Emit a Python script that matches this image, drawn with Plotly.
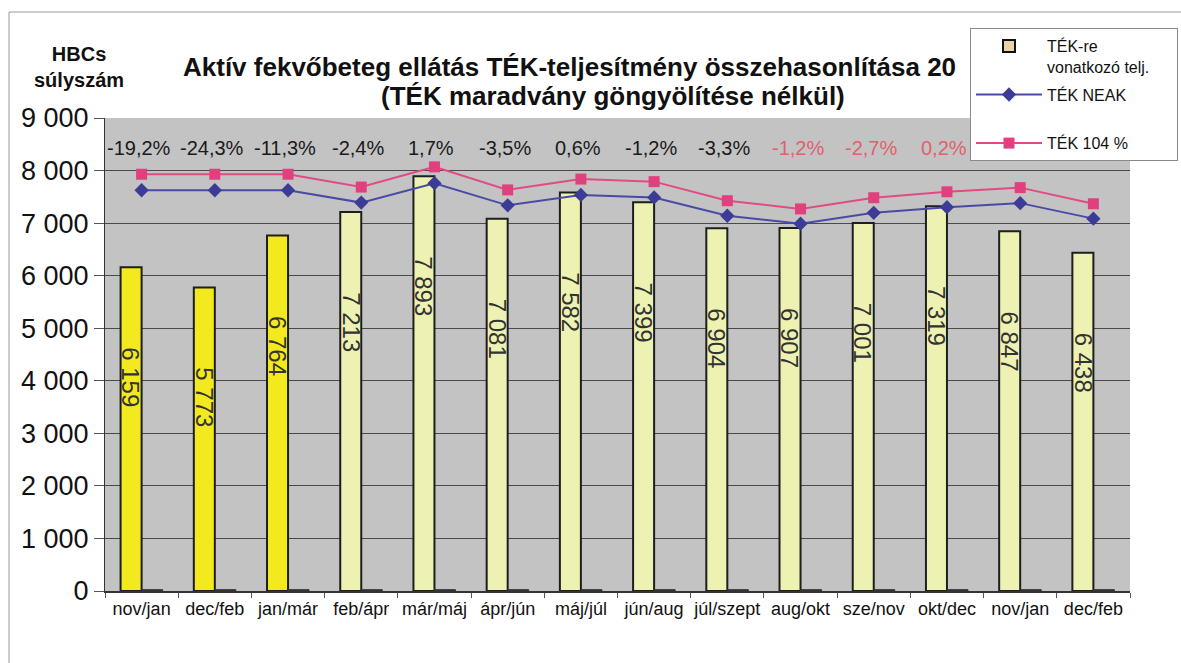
import plotly.graph_objects as go

# ---- data ----
categories = ["nov/jan", "dec/feb", "jan/már", "feb/ápr", "már/máj", "ápr/jún", "máj/júl",
              "jún/aug", "júl/szept", "aug/okt", "sze/nov", "okt/dec", "nov/jan", "dec/feb"]
tek_telj = [6159, 5773, 6764, 7213, 7893, 7081, 7582, 7399, 6904, 6907, 7001, 7319, 6847, 6438]
tek_neak = [7625, 7625, 7625, 7390, 7760, 7338, 7537, 7489, 7140, 6990, 7195, 7304, 7380, 7085]
tek_104 = [7930, 7930, 7930, 7686, 8070, 7632, 7838, 7789, 7426, 7270, 7483, 7596, 7675, 7368]
stub_values = [25, 25, 25, 25, 25, 25, 25, 25, 25, 25, 25, 25, 25, 25]
pct_labels = ["-19,2%", "-24,3%", "-11,3%", "-2,4%", "1,7%", "-3,5%", "0,6%",
              "-1,2%", "-3,3%", "-1,2%", "-2,7%", "0,2%"]
pct_red = [False, False, False, False, False, False, False, False, False, True, True, True]
y_ticks = [0, 1000, 2000, 3000, 4000, 5000, 6000, 7000, 8000, 9000]

# ---- layout geometry (pixels) ----
W, H = 1181, 663
L, R, T, B = 105, 1130, 118, 591
def px(x):
    return (x - L) / (R - L)
def py(y):
    return (B - y) / (B - T)

FONT = "Liberation Sans, Arial, sans-serif"
xs = list(range(len(categories)))
bar_colors = ["#f2ea1e"] * 3 + ["#edf2b2"] * (len(categories) - 3)
bar_text = [f"{v:,}".replace(",", " ") for v in tek_telj]

fig = go.Figure()
fig.add_trace(go.Bar(
    x=xs, y=tek_telj, offsetgroup="a", showlegend=False,
    marker=dict(color=bar_colors, line=dict(color="#1e1e1e", width=2)),
    hoverinfo="skip",
))
fig.add_trace(go.Bar(
    x=xs, y=stub_values, offsetgroup="b", showlegend=False,
    marker=dict(color="#333333", line=dict(color="#333333", width=1)),
    hoverinfo="skip",
))
# legend entry for the bar series (Excel-style tan swatch)
fig.add_trace(go.Bar(
    x=[0], y=[None], offsetgroup="a",
    name="TÉK-re<br>vonatkozó telj.\u00a0\u00a0\u00a0\u00a0\u00a0", legendgroup="g1",
    marker=dict(color="#e9d2a6", line=dict(color="#111111", width=2)),
))
fig.add_trace(go.Scatter(
    x=xs, y=tek_neak, mode="lines+markers", name="TÉK NEAK<br>\u00a0", legendgroup="g2",
    line=dict(color="#4a4aa6", width=2),
    marker=dict(symbol="diamond", size=11, color="#3c3c96"),
))
fig.add_trace(go.Scatter(
    x=xs, y=tek_104, mode="lines+markers", name="TÉK 104 %", legendgroup="g3",
    line=dict(color="#e24a86", width=2),
    marker=dict(symbol="square", size=11, color="#e0407e"),
))

annotations = []
# bar value labels (rotated, inside the bars)
for i, (v, t) in enumerate(zip(tek_telj, bar_text)):
    annotations.append(dict(
        x=i, y=v, xref="x", yref="y", text=t, showarrow=False, textangle=90,
        xanchor="center", yanchor="top", xshift=-10.5, yshift=-78,
        font=dict(family=FONT, size=24, color="#333333"),
    ))
# percentage labels
for i, (lab, red) in enumerate(zip(pct_labels, pct_red)):
    annotations.append(dict(
        x=i, y=8420, xref="x", yref="y", text=lab, showarrow=False, xshift=-3,
        font=dict(family=FONT, size=20, color="#e0606e" if red else "#1a1a1a"),
    ))
annotations.append(dict(
    x=px(181), y=py(67), xref="paper", yref="paper", xanchor="left", yanchor="middle",
    text="<b>Aktív fekvőbeteg ellátás TÉK-teljesítmény összehasonlítása 20</b>",
    showarrow=False, font=dict(family=FONT, size=26, color="#111111"),
))
annotations.append(dict(
    x=px(613), y=py(96), xref="paper", yref="paper", xanchor="center", yanchor="middle",
    text="<b>(TÉK maradvány göngyölítése nélkül)</b>",
    showarrow=False, font=dict(family=FONT, size=26, color="#111111"),
))
annotations.append(dict(
    x=px(79), y=py(67), xref="paper", yref="paper", xanchor="center", yanchor="middle",
    text="<b>HBCs<br>súlyszám</b>", showarrow=False,
    font=dict(family=FONT, size=20, color="#111111"),
))

fig.update_layout(
    width=W, height=H,
    margin=dict(l=L, r=W - R, t=T, b=H - B, pad=0, autoexpand=False),
    paper_bgcolor="white", plot_bgcolor="#c3c3c3",
    separators=", ",
    barmode="group", bargap=0.426, bargroupgap=0,
    font=dict(family=FONT, color="#111111"),
    annotations=annotations,
    legend=dict(
        x=px(970), y=py(28), xanchor="left", yanchor="top",
        bgcolor="white", bordercolor="#8a8a8a", borderwidth=1,
        font=dict(family=FONT, size=16, color="#111111"),
        itemwidth=66, tracegroupgap=4, valign="top",
    ),
    shapes=[dict(type="rect", xref="paper", yref="paper",
                 x0=px(9), x1=px(1300), y0=py(12), y1=py(720),
                 line=dict(color="#9a9a9a", width=1), fillcolor="rgba(0,0,0,0)", layer="below")],
    showlegend=True,
)
fig.update_xaxes(
    range=[-0.5, len(categories) - 0.5], tickvals=xs, ticktext=categories,
    ticks="", showgrid=False, zeroline=False,
    showline=True, linecolor="#333333", linewidth=2,
    tickfont=dict(family=FONT, size=18, color="#111111"),
    minor=dict(tickvals=[i - 0.5 for i in range(len(categories) + 1)],
               ticks="outside", ticklen=5, tickcolor="#555555", showgrid=False),
)
fig.update_yaxes(
    range=[0, 9000], tickvals=y_ticks, tickformat=",d",
    showgrid=True, gridcolor="#4a4a4a", gridwidth=1, zeroline=False,
    showline=True, linecolor="#333333", linewidth=1,
    ticks="outside", ticklen=10, tickcolor="#555555",
    tickfont=dict(family=FONT, size=27, color="#111111"),
)

fig.write_html("out.html", config={"displayModeBar": False},
               post_script="document.body.style.margin='0px';")
